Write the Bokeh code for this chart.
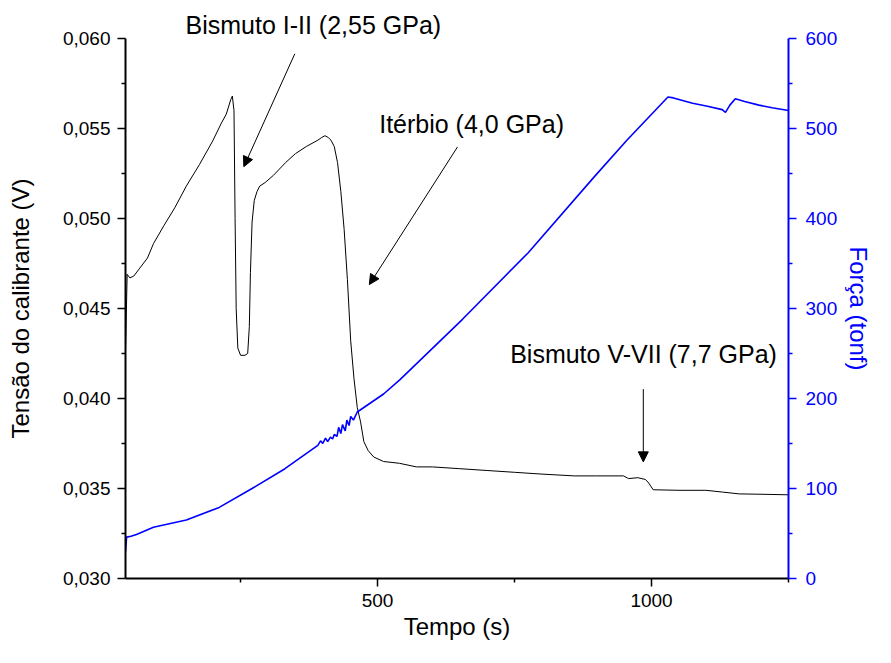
from bokeh.plotting import figure
from bokeh.models import (Range1d, LinearAxis, FixedTicker, Label, Arrow, NormalHead, Title)
from bokeh.embed import file_html
from bokeh.resources import INLINE

# ---- data ----
volt_t = [40, 43, 48, 55, 65, 80, 91, 110, 130, 151, 175, 199, 215, 224, 232, 235,
          238, 240, 242, 245, 250, 258, 263, 266, 268, 271, 275, 280, 285, 295, 310,
          332, 350, 370, 391, 398, 404, 410, 415, 421, 427, 433, 439, 445, 451, 457,
          463, 469, 475, 483, 493, 511, 540, 571, 600, 650, 700, 750, 800, 859, 900,
          949, 958, 975, 989, 995, 1003, 1050, 1099, 1130, 1160, 1200, 1250]
volt_v = [0.0426, 0.0469, 0.0467, 0.0468, 0.0472, 0.0478, 0.0486, 0.0496, 0.0506,
          0.0518, 0.0530, 0.0543, 0.0553, 0.0558, 0.0566, 0.0568, 0.0560, 0.0500,
          0.0450, 0.0428, 0.0424, 0.0424, 0.0425, 0.0440, 0.0470, 0.0498, 0.0510,
          0.0515, 0.0518, 0.0520, 0.0524, 0.0531, 0.0536, 0.0540, 0.05435, 0.0545,
          0.0546, 0.0545, 0.05435, 0.0540, 0.0531, 0.0515, 0.0494, 0.0466, 0.0432,
          0.0411, 0.0395, 0.0387, 0.0376, 0.0371, 0.03675, 0.0365, 0.0364, 0.0362,
          0.0362, 0.0361, 0.0360, 0.0359, 0.0358, 0.0357, 0.0357, 0.0357, 0.03555,
          0.0356, 0.0355, 0.0353, 0.03493, 0.0349, 0.0349, 0.0348, 0.0347, 0.03468,
          0.03465]

force_t = [40, 42, 50, 60, 91, 151, 211, 271, 331, 391, 396, 400, 405, 409, 414, 418,
           421, 426, 429, 433, 436, 441, 444, 448, 451, 456, 463, 511, 541, 655, 775,
           895, 955, 1030, 1040, 1075, 1100, 1129, 1135, 1143, 1153, 1170, 1196, 1220,
           1250]
force_f = [30, 46, 47, 49, 57, 65, 79, 100, 122, 148, 153, 150, 156, 152, 157, 155,
           160, 158, 168, 161, 171, 164, 176, 170, 180, 176, 185, 205, 221, 288, 362,
           446, 487, 535, 534, 528, 525, 521, 518, 526, 533, 530, 526, 523, 520]

x_major = [500, 1000]
x_minor = [250, 750, 1250]
y_major = [0.030, 0.035, 0.040, 0.045, 0.050, 0.055, 0.060]
y_labels = ["0,030", "0,035", "0,040", "0,045", "0,050", "0,055", "0,060"]
y_minor = [0.0325, 0.0375, 0.0425, 0.0475, 0.0525, 0.0575]
f_major = [0, 100, 200, 300, 400, 500, 600]
f_minor = [50, 150, 250, 350, 450, 550]

FONT = "Liberation Sans"
BLUE = "#0000FF"

p = figure(width=875, height=647, x_range=Range1d(40, 1250),
           y_range=Range1d(0.030, 0.060), output_backend="svg",
           toolbar_location=None, min_border_left=125, min_border_right=80,
           min_border_top=38, min_border_bottom=69)
p.outline_line_color = None
p.xgrid.grid_line_color = None
p.ygrid.grid_line_color = None
p.extra_y_ranges = {"force": Range1d(0, 600)}

p.line(volt_t, volt_v, line_color="black", line_width=1)
p.line(force_t, force_f, line_color=BLUE, line_width=1.6, y_range_name="force")

right = LinearAxis(y_range_name="force")
p.add_layout(right, "right")

def style(ax, color):
    ax.axis_line_color = color
    ax.axis_line_width = 2
    ax.major_tick_line_color = color
    ax.minor_tick_line_color = color
    ax.major_tick_line_width = 1.5
    ax.minor_tick_line_width = 1.5
    ax.major_tick_out = 8
    ax.major_tick_in = 0
    ax.minor_tick_out = 4
    ax.minor_tick_in = 0
    ax.major_label_text_color = color
    ax.major_label_text_font = FONT
    ax.major_label_text_font_size = "19px"
    ax.major_label_standoff = 7
    ax.axis_label_text_color = color
    ax.axis_label_text_font = FONT
    ax.axis_label_text_font_size = "24px"
    ax.axis_label_text_font_style = "normal"

xa = p.xaxis[0]
ya = p.yaxis[0]
style(xa, "black")
style(ya, "black")
style(right, BLUE)

xa.ticker = FixedTicker(ticks=x_major, minor_ticks=x_minor)
xa.axis_label = "Tempo (s)"
xa.axis_label_standoff = 3
ya.ticker = FixedTicker(ticks=y_major, minor_ticks=y_minor)
ya.major_label_overrides = dict(zip(y_major, y_labels))
ya.axis_label = "Tensão do calibrante (V)"
ya.axis_label_standoff = 26
right.ticker = FixedTicker(ticks=f_major, minor_ticks=f_minor)
right.major_label_standoff = 9
right.axis_label = "Força (tonf)"
right.axis_label_standoff = 5

# top annotation sits above the frame: placed as a title
p.add_layout(Title(text="Bismuto I-II (2,55 GPa)", align="left", offset=60,
                   standoff=0, text_font=FONT, text_font_size="25px",
                   text_font_style="normal", text_color="black"), "above")

# annotations inside the frame
notes = [("Itérbio (4,0 GPa)", 503, 0.05525),
         ("Bismuto V-VII (7,7 GPa)", 742, 0.04245)]
for txt, tx, ty in notes:
    p.add_layout(Label(x=tx, y=ty, text=txt, text_font=FONT, text_font_size="25px",
                       text_baseline="middle", text_align="left", text_color="black"))

arrows = [(349, 0.05915, 256, 0.05288),
          (646, 0.05398, 485, 0.04633),
          (985, 0.04052, 985, 0.03648)]
for x0, y0, x1, y1 in arrows:
    p.add_layout(Arrow(end=NormalHead(size=10, fill_color="black", line_color="black"),
                       x_start=x0, y_start=y0, x_end=x1, y_end=y1,
                       line_color="black", line_width=1))

open("out.html", "w").write(file_html(p, INLINE))
